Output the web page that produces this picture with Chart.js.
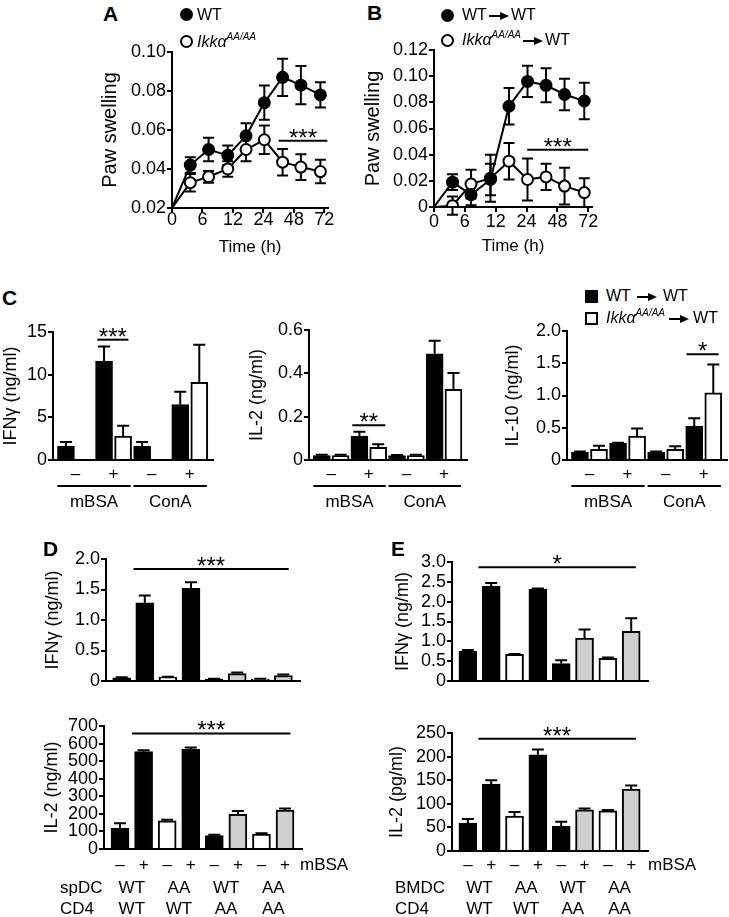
<!DOCTYPE html>
<html>
<head>
<meta charset="utf-8">
<title>Paw swelling and cytokine production</title>
<script src="https://cdn.jsdelivr.net/npm/chart.js@4.4.1/dist/chart.umd.min.js"></script>
<style>
  html, body { margin: 0; background: #fff; }
  #fig { position: relative; width: 729px; height: 917px; overflow: hidden; font-family: Arial, "Liberation Sans", Helvetica, sans-serif; color: #000; }
  #fig canvas { position: absolute; }
  .t { position: absolute; white-space: nowrap; line-height: 1; }
  .panel { font-weight: bold; }
  .t sup { font-size: 10px; vertical-align: 7px; line-height: 0; }
  .mk { position: absolute; box-sizing: border-box; border: 2px solid #000; width: 13px; height: 13px; }
  .circle { border-radius: 50%; }
  .arrow { display: inline-block; vertical-align: middle; }
</style>
</head>
<body>
<div id="fig"></div>
<script>
// ---- A / B: paw swelling over time ----
var timeTicks = [0, 1, 2, 3, 4, 5];
var timeLabels = ['0', '6', '12', '24', '48', '72'];
var timePos = [0, 0.6, 1.2, 1.83, 2.43, 3.03, 3.63, 4.23, 4.87]; // where each measurement sits on the time axis

var aWT = [0.02, 0.042, 0.050, 0.047, 0.057, 0.074, 0.087, 0.083, 0.078];
var aWTerr = [0, 0.004, 0.006, 0.005, 0.0065, 0.0088, 0.0095, 0.0098, 0.0065];
var aKO = [0.02, 0.033, 0.036, 0.040, 0.050, 0.055, 0.0435, 0.041, 0.0387];
var aKOerr = [0, 0.0045, 0.003, 0.004, 0.006, 0.0073, 0.0068, 0.0066, 0.006];
var aYTicks = [0.02, 0.04, 0.06, 0.08, 0.10];
var aYLabels = ['0.02', '0.04', '0.06', '0.08', '0.10'];

var bWT = [0, 0.019, 0.0094, 0.021, 0.077, 0.096, 0.093, 0.086, 0.081];
var bWTerr = [0, 0.006, 0.008, 0.012, 0.014, 0.012, 0.013, 0.012, 0.014];
var bKO = [0, 0.001, 0.0175, 0.022, 0.035, 0.021, 0.023, 0.016, 0.011];
var bKOerr = [0, 0.007, 0.011, 0.018, 0.014, 0.016, 0.01, 0.014, 0.011];
var bYTicks = [0, 0.02, 0.04, 0.06, 0.08, 0.10, 0.12];
var bYLabels = ['0', '0.02', '0.04', '0.06', '0.08', '0.10', '0.12'];

// ---- C: recall responses (bars: WT->WT black, Ikka AA/AA->WT white) ----
var cSigns = ['\u2013', '+', '\u2013', '+'];
var cGroups = ['mBSA', 'ConA'];
var cIfng = [1.6, 0.1, 11.6, 2.8, 1.6, 0.1, 6.5, 9.1];
var cIfngErr = [0.5, 0, 1.7, 1.2, 0.5, 0, 1.5, 4.4];
var cIl2 = [0.02, 0.02, 0.11, 0.058, 0.02, 0.02, 0.49, 0.326];
var cIl2Err = [0.004, 0.004, 0.02, 0.015, 0.003, 0.004, 0.06, 0.076];
var cIl10 = [0.12, 0.165, 0.258, 0.37, 0.12, 0.165, 0.526, 1.04];
var cIl10Err = [0.01, 0.055, 0.01, 0.12, 0.01, 0.05, 0.12, 0.44];
var cIfngTicks = [0, 5, 10, 15], cIfngLabels = ['0', '5', '10', '15'];
var cIl2Ticks = [0, 0.2, 0.4, 0.6], cIl2Labels = ['0', '0.2', '0.4', '0.6'];
var cIl10Ticks = [0, 0.5, 1, 1.5, 2], cIl10Labels = ['0', '0.5', '1.0', '1.5', '2.0'];

// ---- D / E: DC x CD4 co-cultures ----
var mbsaSigns = ['\u2013', '+', '\u2013', '+', '\u2013', '+', '\u2013', '+'];
var dcRow = ['WT', 'AA', 'WT', 'AA'];
var cd4Row = ['WT', 'WT', 'AA', 'AA'];
var dIfng = [0.05, 1.28, 0.06, 1.52, 0.03, 0.12, 0.03, 0.09];
var dIfngErr = [0.01, 0.12, 0.01, 0.1, 0.005, 0.02, 0.005, 0.015];
var dIl2 = [118, 554, 161, 569, 76, 197, 85, 222];
var dIl2Err = [29, 8, 5, 8, 5, 19, 4, 9];
var eIfng = [0.75, 2.39, 0.67, 2.32, 0.44, 1.08, 0.57, 1.25];
var eIfngErr = [0.03, 0.08, 0.01, 0.01, 0.08, 0.22, 0.02, 0.33];
var eIl2 = [59, 142, 74, 204, 53, 87, 85, 131];
var eIl2Err = [9, 8, 8.5, 11, 9, 3, 2, 8];
var dIfngTicks = [0, 0.5, 1, 1.5, 2], dIfngLabels = ['0', '0.5', '1.0', '1.5', '2.0'];
var dIl2Ticks = [0, 100, 200, 300, 400, 500, 600, 700], dIl2Labels = ['0', '100', '200', '300', '400', '500', '600', '700'];
var eIfngTicks = [0, 0.5, 1, 1.5, 2, 2.5, 3], eIfngLabels = ['0', '0.5', '1.0', '1.5', '2.0', '2.5', '3.0'];
var eIl2Ticks = [0, 50, 100, 150, 200, 250], eIl2Labels = ['0', '50', '100', '150', '200', '250'];

var GREY = '#cfcfcf';
var cColors = ['#000', '#fff', '#000', '#fff', '#000', '#fff', '#000', '#fff'];
var deColors = ['#000', '#000', '#fff', '#000', '#000', GREY, '#fff', GREY];

var FONT = 'Arial, "Liberation Sans", Helvetica, sans-serif';
Chart.defaults.font.family = FONT;
Chart.defaults.color = '#000';

var fig = document.getElementById('fig');

function txt(html, x, base, size, cls) {
    var d = document.createElement('div');
    d.className = 't ' + (cls || '');
    d.style.fontSize = size + 'px';
    d.style.left = x + 'px';
    d.style.top = (base - 0.8465 * size) + 'px';
    d.innerHTML = html;
    fig.appendChild(d);
}

function marker(round, filled, cx, cy) {
    var d = document.createElement('div');
    d.className = 'mk' + (round ? ' circle' : '');
    d.style.left = (cx - 6.5) + 'px';
    d.style.top = (cy - 6.5) + 'px';
    d.style.background = filled ? '#000' : '#fff';
    fig.appendChild(d);
}

function arrow(gap) {
    return '<svg class="arrow" style="margin:0 ' + gap + 'px" width="20" height="10" viewBox="0 0 20 10">' +
        '<path d="M0 5H12" stroke="#000" stroke-width="2"/><path d="M11 1L20 5L11 9Z" fill="#000"/></svg>';
}

// error bars, significance bars and the labels under the bar charts
function decor(spec, box) {
    function drawErr(chart) {
        var ctx = chart.ctx, ys = chart.scales.y;
        ctx.save();
        ctx.strokeStyle = '#000';
        ctx.lineWidth = 2;
        spec.err.forEach(function (errs, di) {
            var meta = chart.getDatasetMeta(di);
            var data = chart.data.datasets[di].data;
            meta.data.forEach(function (el, j) {
                var e = errs[j];
                if (!e) return;
                var v = data[j].y;
                var top = ys.getPixelForValue(v + e);
                var bot = spec.upOnly ? ys.getPixelForValue(v) : ys.getPixelForValue(v - e);
                var h = spec.cap / 2;
                ctx.beginPath();
                ctx.moveTo(el.x, top); ctx.lineTo(el.x, bot);
                ctx.moveTo(el.x - h, top); ctx.lineTo(el.x + h, top);
                if (!spec.upOnly) { ctx.moveTo(el.x - h, bot); ctx.lineTo(el.x + h, bot); }
                ctx.stroke();
            });
        });
        ctx.restore();
    }
    return {
        id: 'decor',
        beforeDatasetsDraw: function (chart) { if (!spec.upOnly) drawErr(chart); },
        afterDatasetsDraw: function (chart) { if (spec.upOnly) drawErr(chart); },
        afterDraw: function (chart) {
            var ctx = chart.ctx, xs = chart.scales.x, ys = chart.scales.y;
            var py = function (y) { return y - box.t; };
            var px = function (x) { return x - box.l; };
            ctx.save();
            ctx.fillStyle = '#000';
            ctx.strokeStyle = '#000';
            ctx.lineWidth = 2;
            if (spec.sig) {
                var s = spec.sig;
                var x0 = xs.getPixelForValue(s[0]), x1 = xs.getPixelForValue(s[1]), y = ys.getPixelForValue(s[2]);
                ctx.beginPath(); ctx.moveTo(x0, y); ctx.lineTo(x1, y); ctx.stroke();
                ctx.font = '24px ' + FONT;
                ctx.textAlign = 'center';
                ctx.textBaseline = 'alphabetic';
                ctx.fillText(s[3], (x0 + x1) / 2, y + 5);
            }
            ctx.textAlign = 'center';
            ctx.textBaseline = 'middle';
            ctx.font = '17px ' + FONT;
            if (spec.pairs) {
                spec.pairs.labels.forEach(function (lab, k) {
                    var cx = (xs.getPixelForValue(2 * k) + xs.getPixelForValue(2 * k + 1)) / 2;
                    ctx.fillText(lab, cx, py(spec.pairs.y));
                });
            }
            if (spec.groups) {
                spec.groups.labels.forEach(function (lab, g) {
                    var a = xs.getPixelForValue(4 * g - 0.45), b = xs.getPixelForValue(4 * g + 3.4);
                    ctx.beginPath(); ctx.moveTo(a, py(spec.groups.lineY)); ctx.lineTo(b, py(spec.groups.lineY)); ctx.stroke();
                    ctx.fillText(lab, (a + b) / 2, py(spec.groups.textY));
                });
            }
            if (spec.rows) {
                spec.rows.forEach(function (row) {
                    row.labels.forEach(function (lab, k) {
                        var cx = (xs.getPixelForValue(2 * k) + xs.getPixelForValue(2 * k + 1)) / 2;
                        ctx.textAlign = 'center';
                        ctx.fillText(lab, cx, py(row.y));
                    });
                    ctx.textAlign = 'left';
                    ctx.fillText(row.head, px(row.headX), py(row.y));
                });
            }
            if (spec.tail) {
                ctx.textAlign = 'left';
                ctx.fillText(spec.tail.text, px(spec.tail.x), py(spec.tail.y));
            }
            ctx.restore();
        }
    };
}

function panel(cfg) {
    var box = cfg.box, plot = cfg.plot;
    var cv = document.createElement('canvas');
    cv.width = box.r - box.l;
    cv.height = box.b - box.t;
    cv.style.left = box.l + 'px';
    cv.style.top = box.t + 'px';
    fig.appendChild(cv);

    var axisLine = { display: true, color: '#000', width: 2, z: 1 };
    var tickMarks = { display: true, drawOnChartArea: false, drawTicks: true, tickLength: 5, color: '#000', lineWidth: 2 };
    var ylh = cfg.yTitleSize * 1.2;

    var x = {
        type: 'linear', min: cfg.xMin, max: cfg.xMax, offset: false,
        afterBuildTicks: function (s) { s.ticks = (cfg.xTicks || []).map(function (v) { return { value: v }; }); },
        afterFit: function (s) { s.height = box.b - plot.b; },
        ticks: {
            display: !!cfg.xLabels, autoSkip: false, maxRotation: 0,
            font: { size: cfg.xTickSize || 18, lineHeight: 1 },
            padding: cfg.xLabelY ? cfg.xLabelY - plot.b - (cfg.xTickMarks ? 5 : 0) - (cfg.xTickSize || 18) / 2 : 0,
            callback: function (v, i) { return cfg.xLabels ? cfg.xLabels[i] : ''; }
        },
        grid: cfg.xTickMarks ? tickMarks : { display: false, drawTicks: false },
        border: axisLine
    };
    if (cfg.xTitle) {
        x.title = {
            display: true, text: cfg.xTitle, font: { size: 17, lineHeight: 1.2 },
            padding: { top: 0, bottom: box.b - cfg.xTitleY - 10.2 }
        };
    }
    var y = {
        type: 'linear', min: cfg.yMin, max: cfg.yMax,
        afterBuildTicks: function (s) { s.ticks = cfg.yTicks.map(function (v) { return { value: v }; }); },
        afterFit: function (s) { s.width = plot.l - box.l; },
        ticks: {
            autoSkip: false, padding: 1, font: { size: 18 },
            callback: function (v, i) { return cfg.yLabels[i]; }
        },
        grid: tickMarks,
        border: axisLine,
        title: {
            display: true, text: cfg.yTitle, font: { size: cfg.yTitleSize, lineHeight: 1.2 },
            padding: { top: cfg.yTitleX - box.l - ylh / 2, bottom: 0 }
        }
    };

    return new Chart(cv, {
        type: cfg.type,
        data: { datasets: cfg.datasets },
        options: {
            responsive: false, animation: false, devicePixelRatio: 1, events: [],
            layout: { padding: { left: 0, top: plot.t - box.t, right: box.r - plot.r, bottom: 0 } },
            plugins: { legend: { display: false }, tooltip: { enabled: false } },
            scales: { x: x, y: y }
        },
        plugins: [decor(cfg.decor, box)]
    });
}

function series(values, fill) {
    return {
        data: timePos.map(function (t, i) { return { x: t, y: values[i] }; }),
        borderColor: '#000', borderWidth: 2, tension: 0, fill: false,
        pointRadius: function (c) { return c.dataIndex === 0 ? 0 : 5.5; },
        pointBackgroundColor: fill, pointBorderColor: '#000', pointBorderWidth: 2
    };
}

function bars(values, colors, width) {
    return {
        data: values.map(function (v, i) { return { x: i, y: v }; }),
        backgroundColor: colors, borderColor: '#000', borderWidth: 2, barThickness: width
    };
}

// ---- A ----
panel({
    type: 'line', box: { l: 90, t: 40, r: 340, b: 262 }, plot: { l: 172, t: 52, r: 328, b: 208 },
    datasets: [series(aWT, '#000'), series(aKO, '#fff')],
    xMin: 0, xMax: 5.12, xTicks: timeTicks, xLabels: timeLabels, xTickMarks: true, xLabelY: 220,
    xTitle: 'Time (h)', xTitleY: 247,
    yMin: 0.02, yMax: 0.10, yTicks: aYTicks, yLabels: aYLabels,
    yTitle: 'Paw swelling', yTitleSize: 20, yTitleX: 110,
    decor: { err: [aWTerr, aKOerr], cap: 11, sig: [3.5, 5.1, 0.0545, '***'] }
});

// ---- B ----
panel({
    type: 'line', box: { l: 355, t: 38, r: 605, b: 262 }, plot: { l: 434, t: 50, r: 592, b: 207 },
    datasets: [series(bWT, '#000'), series(bKO, '#fff')],
    xMin: 0, xMax: 5.12, xTicks: timeTicks, xLabels: timeLabels, xTickMarks: true, xLabelY: 222,
    xTitle: 'Time (h)', xTitleY: 246.5,
    yMin: 0, yMax: 0.12, yTicks: bYTicks, yLabels: bYLabels,
    yTitle: 'Paw swelling', yTitleSize: 20, yTitleX: 373.5,
    decor: { err: [bWTerr, bKOerr], cap: 11, sig: [3.02, 5.0, 0.0437, '***'] }
});

// ---- C ----
var cUnder = { pairs: { labels: cSigns, y: 474 }, groups: { labels: cGroups, lineY: 486, textY: 502 } };
function cDecor(err, sig) {
    return { err: [err], upOnly: true, cap: 12, sig: sig, pairs: cUnder.pairs, groups: cUnder.groups };
}
panel({
    type: 'bar', box: { l: 0, t: 318, r: 228, b: 515 }, plot: { l: 53, t: 332, r: 213, b: 460 },
    datasets: [bars(cIfng, cColors, 17)], xMin: -0.68, xMax: 7.72,
    yMin: 0, yMax: 15, yTicks: cIfngTicks, yLabels: cIfngLabels,
    yTitle: 'IFN\u03b3 (ng/ml)', yTitleSize: 18, yTitleX: 11,
    decor: cDecor(cIfngErr, [1.64, 3.28, 14.1, '***'])
});
panel({
    type: 'bar', box: { l: 240, t: 318, r: 480, b: 515 }, plot: { l: 309, t: 330, r: 467, b: 460 },
    datasets: [bars(cIl2, cColors, 17)], xMin: -0.68, xMax: 7.72,
    yMin: 0, yMax: 0.6, yTicks: cIl2Ticks, yLabels: cIl2Labels,
    yTitle: 'IL-2 (ng/ml)', yTitleSize: 18, yTitleX: 257,
    decor: cDecor(cIl2Err, [1.62, 3.38, 0.16, '**'])
});
panel({
    type: 'bar', box: { l: 495, t: 318, r: 729, b: 515 }, plot: { l: 567, t: 331, r: 727, b: 460 },
    datasets: [bars(cIl10, cColors, 17)], xMin: -0.68, xMax: 7.72,
    yMin: 0, yMax: 2, yTicks: cIl10Ticks, yLabels: cIl10Labels,
    yTitle: 'IL-10 (ng/ml)', yTitleSize: 18, yTitleX: 513,
    decor: cDecor(cIl10Err, [5.6, 7.28, 1.64, '*'])
});

// ---- D ----
panel({
    type: 'bar', box: { l: 0, t: 545, r: 320, b: 700 }, plot: { l: 106, t: 559, r: 300, b: 681 },
    datasets: [bars(dIfng, deColors, 18)], xMin: -0.68, xMax: 7.72,
    yMin: 0, yMax: 2, yTicks: dIfngTicks, yLabels: dIfngLabels,
    yTitle: 'IFN\u03b3 (ng/ml)', yTitleSize: 18, yTitleX: 53,
    decor: { err: [dIfngErr], upOnly: true, cap: 12, sig: [0.51, 7.23, 1.835, '***'] }
});
panel({
    type: 'bar', box: { l: 0, t: 712, r: 365, b: 917 }, plot: { l: 104, t: 726, r: 302, b: 849 },
    datasets: [bars(dIl2, deColors, 18)], xMin: -0.68, xMax: 7.72,
    xTicks: [0, 1, 2, 3, 4, 5, 6, 7], xLabels: mbsaSigns, xLabelY: 865, xTickSize: 17,
    yMin: 0, yMax: 700, yTicks: dIl2Ticks, yLabels: dIl2Labels,
    yTitle: 'IL-2 (ng/ml)', yTitleSize: 18, yTitleX: 52,
    decor: {
        err: [dIl2Err], upOnly: true, cap: 12, sig: [0.51, 7.23, 658, '***'],
        rows: [{ head: 'spDC', headX: 60, y: 888, labels: dcRow }, { head: 'CD4', headX: 60, y: 909, labels: cd4Row }],
        tail: { text: 'mBSA', x: 300, y: 865 }
    }
});

// ---- E ----
panel({
    type: 'bar', box: { l: 365, t: 548, r: 680, b: 700 }, plot: { l: 452, t: 562, r: 648, b: 681 },
    datasets: [bars(eIfng, deColors, 18)], xMin: -0.68, xMax: 7.72,
    yMin: 0, yMax: 3, yTicks: eIfngTicks, yLabels: eIfngLabels,
    yTitle: 'IFN\u03b3 (ng/ml)', yTitleSize: 18, yTitleX: 403,
    decor: { err: [eIfngErr], upOnly: true, cap: 12, sig: [0.45, 7.2, 2.87, '*'] }
});
panel({
    type: 'bar', box: { l: 365, t: 718, r: 729, b: 917 }, plot: { l: 452, t: 733, r: 648, b: 851 },
    datasets: [bars(eIl2, deColors, 18)], xMin: -0.68, xMax: 7.72,
    xTicks: [0, 1, 2, 3, 4, 5, 6, 7], xLabels: mbsaSigns, xLabelY: 865, xTickSize: 17,
    yMin: 0, yMax: 250, yTicks: eIl2Ticks, yLabels: eIl2Labels,
    yTitle: 'IL-2 (pg/ml)', yTitleSize: 18, yTitleX: 397,
    decor: {
        err: [eIl2Err], upOnly: true, cap: 12, sig: [0.45, 7.2, 238, '***'],
        rows: [{ head: 'BMDC', headX: 395, y: 888, labels: dcRow }, { head: 'CD4', headX: 395, y: 909, labels: cd4Row }],
        tail: { text: 'mBSA', x: 648, y: 865 }
    }
});

// ---- panel letters and legends ----
txt('A', 103, 20.5, 21, 'panel');
txt('B', 367, 19.5, 21, 'panel');
txt('C', 2, 305, 21, 'panel');
txt('D', 43, 555.5, 21, 'panel');
txt('E', 391, 555.5, 21, 'panel');

var ikk = '<i>Ikk\u03b1</i><sup><i>AA/AA</i></sup>';
marker(true, true, 186, 14.5);
txt('WT', 197, 20.5, 16);
marker(true, false, 186, 41.5);
txt(ikk, 197, 47.5, 16);

marker(true, true, 447, 15);
txt('WT' + arrow(2) + 'WT', 462, 21, 16);
marker(true, false, 447, 40);
txt(ikk + arrow(2) + 'WT', 462, 46, 16);

marker(false, true, 591.5, 296);
txt('WT' + arrow(6) + 'WT', 606, 302, 16);
marker(false, false, 591.5, 318);
txt(ikk + arrow(4) + 'WT', 606, 324, 16);
</script>
</body>
</html>
